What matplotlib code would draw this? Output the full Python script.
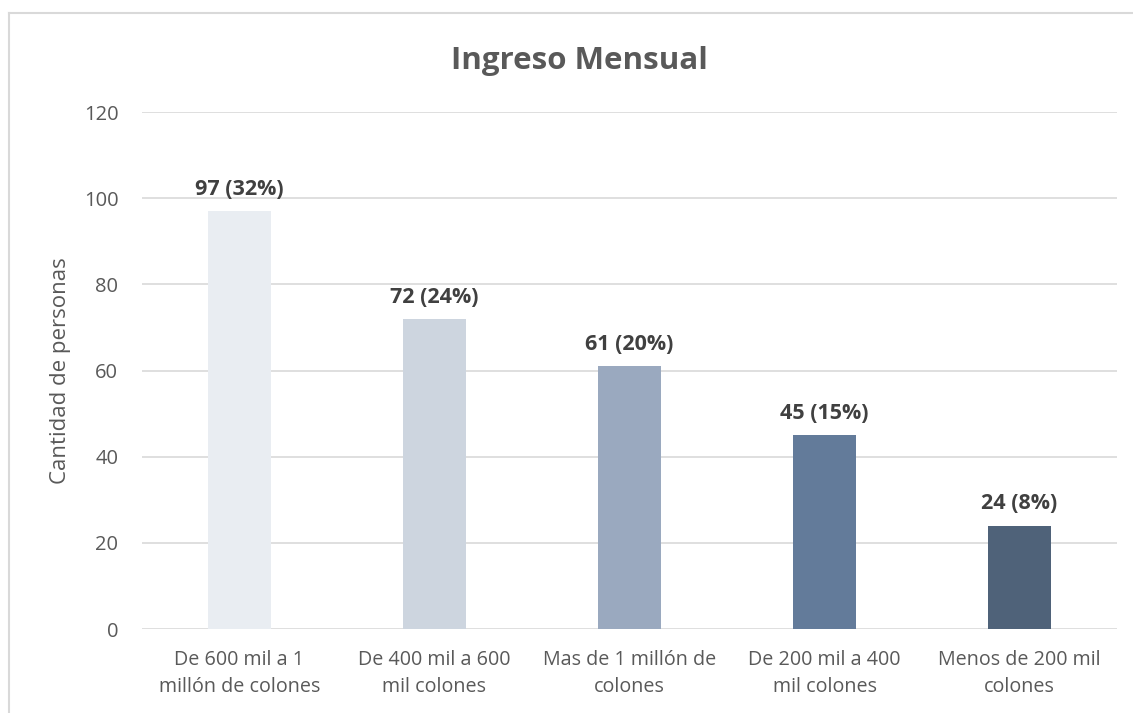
import matplotlib.pyplot as plt
from matplotlib.lines import Line2D

categorias = ['De 600 mil a 1\nmillón de colones', 'De 400 mil a 600\nmil colones',
              'Mas de 1 millón de\ncolones', 'De 200 mil a 400\nmil colones',
              'Menos de 200 mil\ncolones']
cantidades = [97, 72, 61, 45, 24]
porcentajes = [32, 24, 20, 15, 8]
colores = ['#E9EDF2', '#CDD5DF', '#9AA9BF', '#637B9A', '#4F6279']

plt.rcParams['font.family'] = ['Open Sans', 'DejaVu Sans']

fig = plt.figure(figsize=(11.33, 7.13), dpi=100)
ax = fig.add_axes([0.1253, 0.1178, 0.8606, 0.7251])

x = range(len(categorias))
bars = ax.bar(x, cantidades, width=0.32, color=colores, zorder=3)
for b, c, p in zip(bars, cantidades, porcentajes):
    ax.annotate(f'{c} ({p}%)', (b.get_x() + b.get_width() / 2, b.get_height()),
                xytext=(0, 8), textcoords='offset points', ha='center', va='bottom',
                fontsize=15.5, fontweight='bold', color='#404040')

ax.set_ylim(0, 120)
ax.set_xlim(-0.5, 4.5)
ax.set_yticks(range(0, 121, 20))
ax.set_xticks(list(x))
ax.set_xticklabels(categorias, fontsize=14.2, color='#595959', linespacing=1.5)
ax.tick_params(axis='y', labelsize=14.5, labelcolor='#595959', length=0, pad=17)
ax.tick_params(axis='x', length=0, pad=15)
ax.grid(axis='y', color='#D9D9D9', linewidth=1.2, zorder=0)
for s in ax.spines.values():
    s.set_visible(False)
ax.set_ylabel('Cantidad de personas', fontsize=16, color='#595959', labelpad=9)

fig.text(0.511, 0.914, 'Ingreso Mensual', ha='center', va='center',
         fontsize=22.5, fontweight='bold', color='#595959')

# borde del grafico
fig.add_artist(Line2D([9 / 1133, 9 / 1133], [0, 1 - 13 / 713], color='#D9D9D9', lw=1.5))
fig.add_artist(Line2D([9 / 1133, 1], [1 - 13 / 713, 1 - 13 / 713], color='#D9D9D9', lw=1.5))

fig.savefig('out.png', dpi=100)
